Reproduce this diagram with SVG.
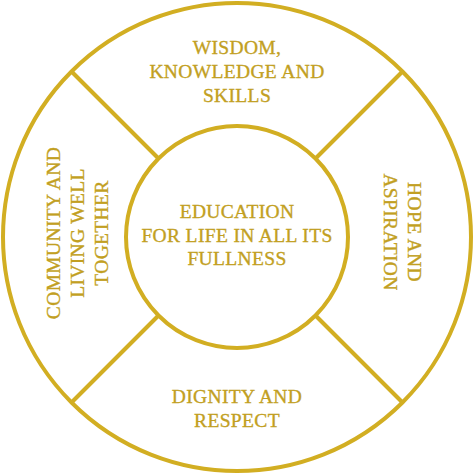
<svg xmlns="http://www.w3.org/2000/svg" width="474" height="474" viewBox="0 0 474 474">
<style>
.ring{fill:#fff;stroke:#d2ae22;stroke-width:4}
.spoke{stroke:#d2ae22;stroke-width:4;fill:none}
.t{font-family:"Liberation Serif","DejaVu Serif",serif;font-size:19.5px;letter-spacing:0.35px;fill:#c29f22;stroke:#c29f22;stroke-width:0.35;text-anchor:middle}
</style>
<rect width="474" height="474" fill="#fff"/>
<g id="outer"><circle class="ring" cx="237" cy="237" r="234"/></g>
<g id="connectors">
<line class="spoke" x1="71" y1="71" x2="159" y2="159"/>
<line class="spoke" x1="403" y1="71" x2="315" y2="159"/>
<line class="spoke" x1="71" y1="403" x2="159" y2="315"/>
<line class="spoke" x1="403" y1="403" x2="315" y2="315"/>
</g>
<g id="center"><circle class="ring" cx="237" cy="237" r="111"/>
<text class="t" x="237" y="218">EDUCATION</text>
<text class="t" x="237" y="241.5">FOR LIFE IN ALL ITS</text>
<text class="t" x="237" y="265">FULLNESS</text>
</g>
<g id="top">
<text class="t" x="237" y="54">WISDOM,</text>
<text class="t" x="237" y="78">KNOWLEDGE AND</text>
<text class="t" x="237" y="101.5">SKILLS</text>
</g>
<g id="right">
<text class="t" transform="translate(408,232) rotate(90)">HOPE AND</text>
<text class="t" transform="translate(384,232) rotate(90)">ASPIRATION</text>
</g>
<g id="bottom">
<text class="t" x="237" y="403">DIGNITY AND</text>
<text class="t" x="237" y="426.5">RESPECT</text>
</g>
<g id="left">
<text class="t" transform="translate(60,233) rotate(-90)">COMMUNITY AND</text>
<text class="t" transform="translate(84,233) rotate(-90)">LIVING WELL</text>
<text class="t" transform="translate(108,233) rotate(-90)">TOGETHER</text>
</g>
</svg>
